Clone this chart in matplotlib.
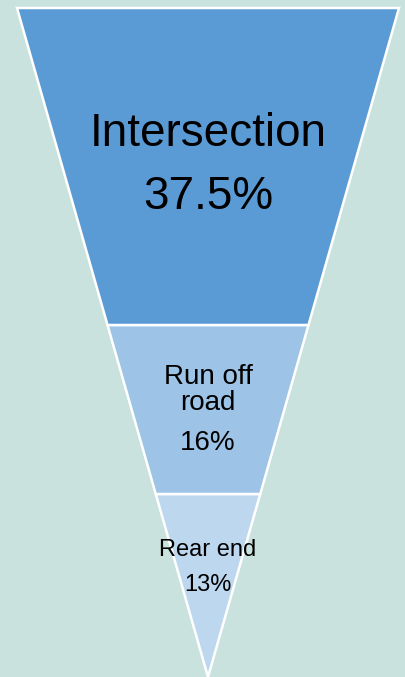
#!/usr/bin/env python3

import matplotlib.pyplot as plt
from matplotlib.patches import Polygon

plt.rcParams["font.family"] = ["Liberation Sans", "DejaVu Sans"]

# funnel sections, bottom (tip) to top
labels = ["Rear end", "Run off\nroad", "Intersection"]
percents = ["13%", "16%", "37.5%"]
band_tops = [183, 352, 669]          # height of each band's upper edge above the tip
colors = ["#bdd7ee", "#9dc3e6", "#5b9bd5"]
font_sizes = [17, 20, 33]

TOP_HALF_WIDTH = 191
BACKGROUND = "#c9e2de"


def half_width(h):
    return TOP_HALF_WIDTH * h / band_tops[-1]


def main():
    fig = plt.figure(figsize=(4.06, 6.77), dpi=100, facecolor=BACKGROUND)
    ax = fig.add_axes([0, 0, 1, 1])
    ax.set_facecolor(BACKGROUND)
    ax.set_xlim(-208, 198)
    ax.set_ylim(0, 677)
    ax.axis("off")

    bottom = 0
    for label, pct, top, color, fs in zip(labels, percents, band_tops, colors, font_sizes):
        verts = [
            (-half_width(bottom), bottom),
            (half_width(bottom), bottom),
            (half_width(top), top),
            (-half_width(top), top),
        ]
        ax.add_patch(Polygon(verts, closed=True, facecolor=color,
                             edgecolor="white", linewidth=1.8, joinstyle="miter"))
        bottom = top

    # label positions (centre heights above the tip)
    ax.text(0, 677 - 134, labels[2], ha="center", va="center", fontsize=font_sizes[2])
    ax.text(0, 677 - 197, percents[2], ha="center", va="center", fontsize=font_sizes[2])
    ax.text(0, 677 - 390, labels[1], ha="center", va="center", fontsize=font_sizes[1],
            linespacing=1.0)
    ax.text(0, 677 - 443, percents[1], ha="center", va="center", fontsize=font_sizes[1])
    ax.text(0, 677 - 550, labels[0], ha="center", va="center", fontsize=font_sizes[0])
    ax.text(0, 677 - 585, percents[0], ha="center", va="center", fontsize=font_sizes[0])

    fig.savefig("out.png", dpi=100, facecolor=BACKGROUND)
    plt.close(fig)


if __name__ == "__main__":
    main()
